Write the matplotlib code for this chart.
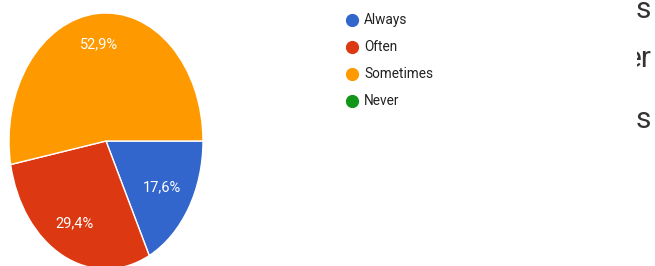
import numpy as np
import matplotlib
matplotlib.use("Agg")
import matplotlib.pyplot as plt

categories = ["Always", "Often", "Sometimes", "Never"]
counts = [3, 5, 9, 0]
colors = ["#3366CC", "#DC3912", "#FF9900", "#109618"]
fragments = ["s", "er", "s"]

W, H = 655, 266
fig = plt.figure(figsize=(W / 100, H / 100), dpi=100)

# pie axes (ellipse: rx=97px, ry=128px centred at 106,141)
cx, cy, rx, ry = 106, 141, 97, 128
ax = fig.add_axes([(cx - rx) / W, (H - (cy + ry)) / H, 2 * rx / W, 2 * ry / H])
vals = [v for v in counts if v > 0]
cols = [c for v, c in zip(counts, colors) if v > 0]
total = sum(counts)
wedges, _ = ax.pie(vals, colors=cols, startangle=0, counterclock=False,
                   radius=1.0, wedgeprops=dict(edgecolor="white", linewidth=1.0))
ax.set_aspect("auto")
ax.set_xlim(-1, 1)
ax.set_ylim(-1, 1)
dists = [0.68, 0.72, 0.76]
for w, v, d in zip(wedges, vals, dists):
    mid = np.deg2rad((w.theta1 + w.theta2) / 2)
    pct = f"{100 * v / total:.1f}%".replace(".", ",")
    ax.text(d * np.cos(mid), d * np.sin(mid), pct, color="white",
            ha="center", va="center", fontsize=10.5, family="Roboto")

# legend
lg = fig.add_axes([0, 0, 1, 1])
lg.set_xlim(0, W)
lg.set_ylim(H, 0)
lg.axis("off")
for i, (lab, c) in enumerate(zip(categories, colors)):
    y = 20 + 27 * i
    lg.plot([352], [y], marker="o", markersize=8.5, color=c, linestyle="none")
    lg.text(364, y, lab, ha="left", va="center", fontsize=9.8, family="Roboto",
            color="#222222")

# clipped text fragments on the right edge
fr = fig.add_axes([637 / W, 0, (W - 637) / W, 1])
fr.set_xlim(637, W)
fr.set_ylim(H, 0)
fr.axis("off")
xs = [636, 625.5, 635.5]
ys = [18, 67, 128]
for t, x, y in zip(fragments, xs, ys):
    fr.text(x, y, t, ha="left", va="baseline", fontsize=21.5, family="Roboto",
            color="#333333", clip_on=True)

fig.savefig("out.png", dpi=100)
